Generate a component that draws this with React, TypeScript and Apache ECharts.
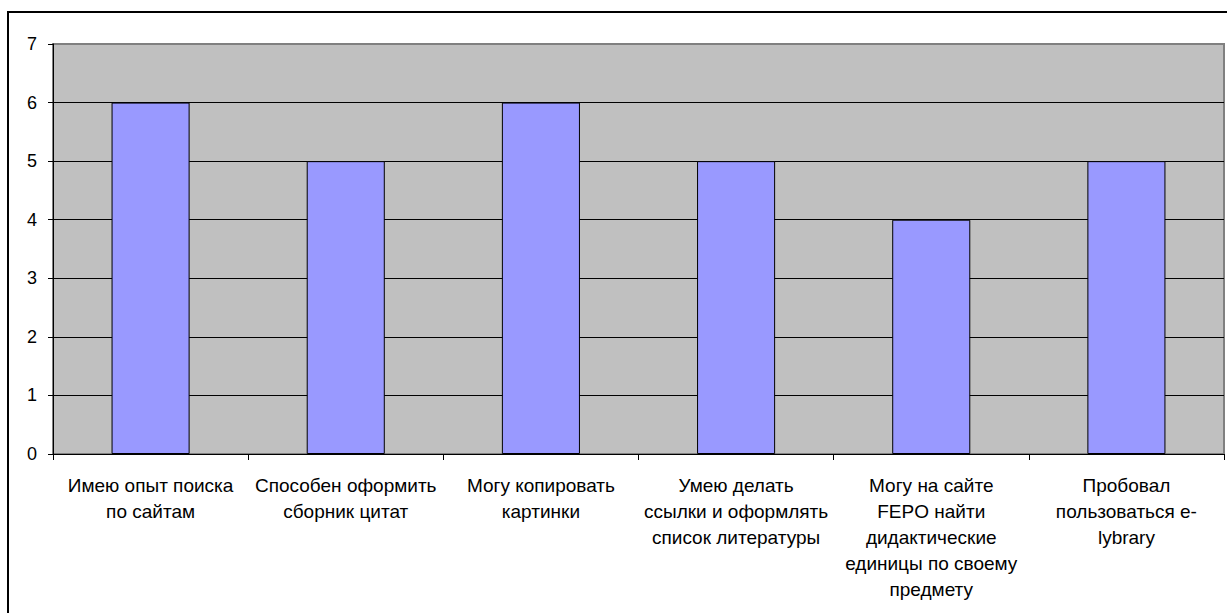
import React, { useEffect, useRef } from "react";
import * as echarts from "echarts";

const categories = [
  "Имею опыт поиска\nпо сайтам",
  "Способен оформить\nсборник цитат",
  "Могу копировать\nкартинки",
  "Умею делать\nссылки и оформлять\nсписок литературы",
  "Могу на сайте\nFEPO найти\nдидактические\nединицы по своему\nпредмету",
  "Пробовал\nпользоваться e-\nlybrary",
];
const values = [6, 5, 6, 5, 4, 5];
const yTicks = [0, 1, 2, 3, 4, 5, 6, 7];

export default function App() {
  const ref = useRef<HTMLDivElement>(null);
  useEffect(() => {
    if (!ref.current) return;
    const chart = echarts.init(ref.current, null, { renderer: "svg" });
    chart.setOption({
      animation: false,
      backgroundColor: "#ffffff",
      grid: {
        left: 53,
        top: 44,
        right: 3,
        bottom: 159,
        show: true,
        backgroundColor: "#C0C0C0",
        borderColor: "#808080",
        borderWidth: 2,
      },
      graphic: [
        {
          type: "rect",
          shape: { x: 8, y: 12, width: 1300, height: 700 },
          style: { fill: "none", stroke: "#000", lineWidth: 2 },
          silent: true,
        },
      ],
      xAxis: {
        type: "category",
        data: categories,
        axisLine: { show: true, lineStyle: { color: "#000", width: 1 } },
        axisTick: { show: true, length: 6, lineStyle: { color: "#000" } },
        axisLabel: {
          interval: 0,
          color: "#000",
          fontFamily: "Liberation Sans, Arial, sans-serif",
          fontSize: 19,
          lineHeight: 26,
          margin: 18,
          align: "center",
        },
        splitLine: { show: false },
      },
      yAxis: {
        type: "value",
        min: 0,
        max: 7,
        interval: 1,
        axisLine: { show: true, lineStyle: { color: "#000", width: 1 } },
        axisTick: { show: true, length: 5, lineStyle: { color: "#000" } },
        axisLabel: {
          color: "#000",
          fontFamily: "Liberation Sans, Arial, sans-serif",
          fontSize: 18,
          margin: 16,
          formatter: (v: number) => (yTicks.includes(v) ? String(v) : ""),
        },
        splitLine: {
          show: true,
          lineStyle: {
            color: ["#000", "#000", "#000", "#000", "#000", "#000", "#000", "#808080"],
            width: 1,
          },
        },
      },
      series: [
        {
          type: "bar",
          data: values,
          barCategoryGap: "60%",
          itemStyle: { color: "#9999FF", borderColor: "#000", borderWidth: 1 },
        },
      ],
    });
    return () => chart.dispose();
  }, []);
  return (
    <div
      ref={ref}
      style={{ position: "fixed", left: 0, top: 0, width: 1227, height: 613 }}
    />
  );
}
